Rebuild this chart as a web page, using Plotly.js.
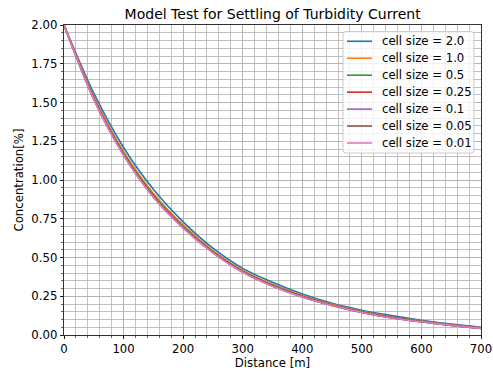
<!DOCTYPE html>
<html>
<head>
<meta charset="utf-8">
<script src="https://cdn.plot.ly/plotly-3.0.1.min.js"></script>
<style>html,body{margin:0;padding:0;background:#fff;}#chart{width:493px;height:374px;}</style>
</head>
<body>
<div id="chart"></div>
<script>
const distance = [0, 50, 100, 150, 200, 250, 300, 350, 400, 450, 500, 550, 600, 650, 700];
const labels = ["cell size = 2.0", "cell size = 1.0", "cell size = 0.5", "cell size = 0.25", "cell size = 0.1", "cell size = 0.05", "cell size = 0.01"];
const cs2_0  = [2.00, 1.56, 1.21, 0.94, 0.73, 0.56, 0.43, 0.34, 0.265, 0.205, 0.16, 0.125, 0.095, 0.07, 0.05];
const cs1_0  = [2.00, 1.54, 1.185, 0.915, 0.71, 0.545, 0.418, 0.328, 0.255, 0.198, 0.153, 0.118, 0.09, 0.066, 0.047];
const cs0_5  = [2.00, 1.53, 1.173, 0.903, 0.70, 0.538, 0.412, 0.322, 0.25, 0.194, 0.149, 0.114, 0.088, 0.064, 0.045];
const cs0_25 = [2.00, 1.525, 1.166, 0.896, 0.695, 0.534, 0.408, 0.318, 0.248, 0.192, 0.147, 0.112, 0.086, 0.063, 0.044];
const cs0_1  = [2.00, 1.522, 1.162, 0.892, 0.692, 0.532, 0.406, 0.316, 0.246, 0.191, 0.146, 0.111, 0.085, 0.062, 0.043];
const cs0_05 = [2.00, 1.521, 1.161, 0.891, 0.691, 0.531, 0.406, 0.316, 0.246, 0.190, 0.145, 0.110, 0.085, 0.062, 0.043];
const cs0_01 = [2.00, 1.52, 1.16, 0.89, 0.69, 0.53, 0.405, 0.315, 0.245, 0.19, 0.145, 0.11, 0.085, 0.062, 0.043];
const xTicks = [0, 100, 200, 300, 400, 500, 600, 700];
const yTicks = [0, 0.25, 0.5, 0.75, 1.0, 1.25, 1.5, 1.75, 2.0];

const series = [cs2_0, cs1_0, cs0_5, cs0_25, cs0_1, cs0_05, cs0_01];
const colors = ["#1f77b4", "#ff7f0e", "#2ca02c", "#d62728", "#9467bd", "#8c564b", "#e377c2"];
const FONT = "DejaVu Sans, Verdana, sans-serif";
const FS = 11.7;

const traces = series.map((ys, i) => ({
  x: distance, y: ys, name: labels[i], type: "scatter", mode: "lines", showlegend: false,
  line: {color: colors[i], width: 1.6, shape: "spline", smoothing: 0.8}
}));

// plot-area geometry (pixels) used to place a matplotlib-style legend box
const W = 493, H = 374, ML = 64, MR = 12, MT = 25, MB = 39;
const PW = W - ML - MR, PH = H - MT - MB;
const px = v => (v - ML) / PW;
const py = v => (H - MB - v) / PH;

const box = {x0: 343, x1: 474, y0: 31.5, y1: 153, r: 3};
const rowY0 = 41.3, rowStep = 16.95, lineX0 = 347, lineX1 = 372, textX = 380;

function roundedPath(b) {
  const rx = b.r / PW, ry = b.r / PH;
  const L = px(b.x0), R = px(b.x1), T = py(b.y0), B = py(b.y1);
  return `M ${L + rx},${T} L ${R - rx},${T} Q ${R},${T} ${R},${T - ry} L ${R},${B + ry} Q ${R},${B} ${R - rx},${B} ` +
         `L ${L + rx},${B} Q ${L},${B} ${L},${B + ry} L ${L},${T - ry} Q ${L},${T} ${L + rx},${T} Z`;
}

const shapes = [{type: "path", xref: "paper", yref: "paper", path: roundedPath(box), layer: "above",
                 fillcolor: "rgba(255,255,255,0.8)", line: {color: "#cccccc", width: 1}}];
const annotations = [];
labels.forEach((lab, i) => {
  const yy = py(rowY0 + i * rowStep);
  shapes.push({type: "line", xref: "paper", yref: "paper", x0: px(lineX0), x1: px(lineX1), y0: yy, y1: yy,
               layer: "above", line: {color: colors[i], width: 1.6}});
  annotations.push({xref: "paper", yref: "paper", x: px(textX), y: yy, xanchor: "left", yanchor: "middle",
                    text: lab, showarrow: false, font: {family: FONT, size: FS, color: "#000"}});
});

const gridColor = "#b0b0b0";
const layout = {
  width: W, height: H,
  margin: {l: ML, r: MR, t: MT, b: MB, pad: 0},
  paper_bgcolor: "#fff", plot_bgcolor: "#fff",
  font: {family: FONT, size: FS, color: "#000"},
  title: {text: "Model Test for Settling of Turbidity Current", font: {family: FONT, size: 14, color: "#000"},
          x: 0.553, xanchor: "center", y: 0.962, yanchor: "middle"},
  showlegend: false,
  shapes: shapes, annotations: annotations,
  xaxis: {
    range: [0, 700], tickmode: "array", tickvals: xTicks, ticktext: xTicks.map(String),
    ticks: "outside", ticklen: 3.5, tickwidth: 0.8, tickcolor: "#000",
    showline: true, linecolor: "#000", linewidth: 0.8, mirror: true,
    showgrid: true, gridcolor: gridColor, gridwidth: 0.8, zeroline: false,
    minor: {dtick: 20, tick0: 0, ticks: "outside", ticklen: 2, tickwidth: 0.6, tickcolor: "#000", showgrid: true, gridcolor: gridColor, gridwidth: 0.8},
    title: {text: "Distance [m]", font: {family: FONT, size: FS, color: "#000"}, standoff: 3},
    tickfont: {family: FONT, size: FS, color: "#000"}
  },
  yaxis: {
    range: [0, 2], tickmode: "array", tickvals: yTicks, ticktext: yTicks.map(v => v.toFixed(2)),
    ticks: "outside", ticklen: 3.5, tickwidth: 0.8, tickcolor: "#000",
    showline: true, linecolor: "#000", linewidth: 0.8, mirror: true,
    showgrid: true, gridcolor: gridColor, gridwidth: 0.8, zeroline: false,
    minor: {dtick: 0.05, tick0: 0, ticks: "outside", ticklen: 2, tickwidth: 0.6, tickcolor: "#000", showgrid: true, gridcolor: gridColor, gridwidth: 0.8},
    title: {text: "Concentration[%]", font: {family: FONT, size: FS, color: "#000"}, standoff: 5},
    tickfont: {family: FONT, size: FS, color: "#000"}
  }
};

Plotly.newPlot("chart", traces, layout, {displayModeBar: false, staticPlot: true});
</script>
</body>
</html>
